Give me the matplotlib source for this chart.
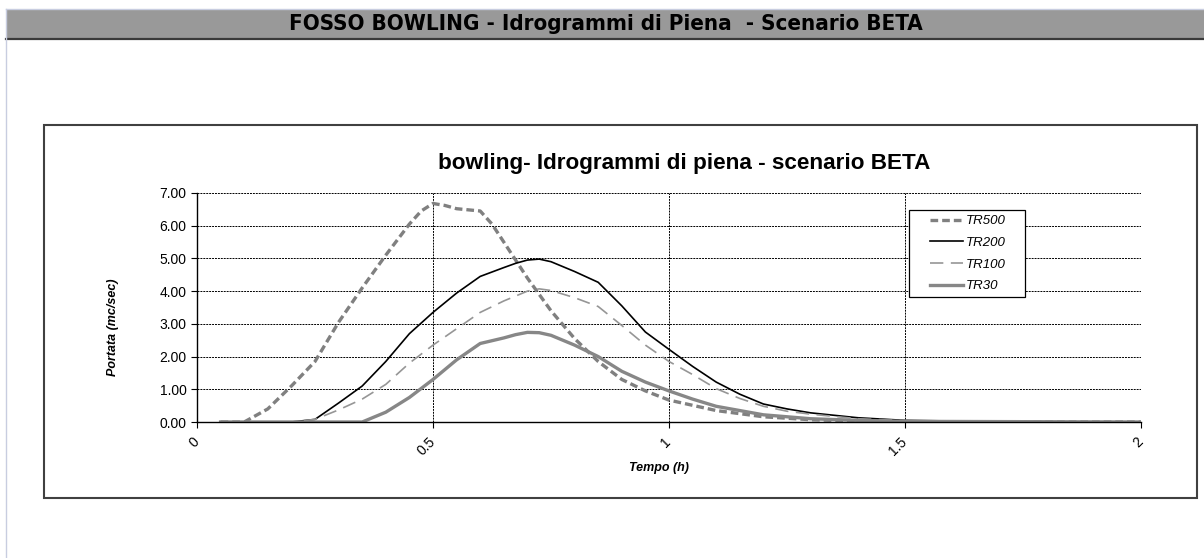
import matplotlib.pyplot as plt
from matplotlib.patches import Rectangle
from matplotlib.lines import Line2D

# portate (mc/sec)
t500 = [0.05, 0.10, 0.15, 0.20, 0.25, 0.30, 0.35, 0.40, 0.45, 0.475, 0.50, 0.525, 0.55, 0.60,
        0.625, 0.65, 0.70, 0.75, 0.80, 0.85, 0.90, 0.95, 1.00, 1.10, 1.20, 1.30, 1.40, 1.50, 2.00]
q500 = [0.0, 0.0, 0.4, 1.1, 1.85, 3.05, 4.1, 5.1, 6.05, 6.45, 6.68, 6.62, 6.52, 6.45,
        6.05, 5.5, 4.4, 3.4, 2.55, 1.85, 1.3, 0.95, 0.67, 0.35, 0.16, 0.07, 0.03, 0.01, 0.0]

t200 = [0.05, 0.20, 0.25, 0.30, 0.35, 0.40, 0.45, 0.50, 0.55, 0.60, 0.65, 0.675, 0.70, 0.725,
        0.75, 0.80, 0.85, 0.90, 0.95, 1.00, 1.05, 1.10, 1.15, 1.20, 1.25, 1.30, 1.40, 1.50,
        1.70, 2.00]
q200 = [0.0, 0.0, 0.08, 0.58, 1.1, 1.85, 2.7, 3.35, 3.94, 4.45, 4.72, 4.85, 4.95, 4.98,
        4.9, 4.6, 4.27, 3.55, 2.75, 2.22, 1.7, 1.22, 0.85, 0.55, 0.4, 0.28, 0.13, 0.05,
        0.01, 0.0]

t100 = [0.05, 0.20, 0.25, 0.30, 0.35, 0.40, 0.45, 0.50, 0.55, 0.60, 0.65, 0.70, 0.725,
        0.75, 0.80, 0.85, 0.90, 0.95, 1.00, 1.05, 1.10, 1.15, 1.20, 1.25, 1.30, 1.40, 1.50,
        1.70, 2.00]
q100 = [0.0, 0.0, 0.08, 0.37, 0.7, 1.15, 1.8, 2.35, 2.85, 3.35, 3.7, 4.0, 4.07,
        4.02, 3.8, 3.53, 2.95, 2.35, 1.85, 1.45, 1.02, 0.72, 0.48, 0.33, 0.24, 0.1, 0.04,
        0.01, 0.0]

t30 = [0.05, 0.35, 0.40, 0.45, 0.50, 0.55, 0.60, 0.65, 0.675, 0.70, 0.725, 0.75, 0.80,
       0.85, 0.90, 0.95, 1.00, 1.05, 1.10, 1.20, 1.30, 1.40, 1.50, 2.00]
q30 = [0.0, 0.0, 0.3, 0.75, 1.3, 1.9, 2.4, 2.57, 2.67, 2.74, 2.73, 2.65, 2.35,
       2.0, 1.55, 1.22, 0.95, 0.7, 0.48, 0.22, 0.1, 0.05, 0.02, 0.0]

xticks = [0, 0.5, 1, 1.5, 2]
yticks = [0, 1, 2, 3, 4, 5, 6, 7]

plt.rcParams['font.family'] = ['Liberation Sans', 'DejaVu Sans']

fig = plt.figure(figsize=(12.04, 5.58), dpi=100)
fig.patch.set_facecolor('white')

# banner in alto
fig.add_artist(Rectangle((6 / 1204, 1 - 38 / 558), 1 - 6 / 1204, 29 / 558,
                         transform=fig.transFigure, facecolor='#999999',
                         edgecolor='none', zorder=-2))
fig.add_artist(Line2D([6 / 1204, 1], [1 - 38.5 / 558] * 2, color='#3a3a3a', lw=1.6))
fig.add_artist(Line2D([6 / 1204, 1], [1 - 8.5 / 558] * 2, color='#c8cde0', lw=1.0))
fig.add_artist(Line2D([6 / 1204] * 2, [0, 1 - 8.5 / 558], color='#c8cde0', lw=1.0))
fig.text(606 / 1204, 1 - 24 / 558, 'FOSSO BOWLING - Idrogrammi di Piena  - Scenario BETA',
         ha='center', va='center', fontsize=16, fontweight='bold',
         family='DejaVu Sans', fontstretch='condensed')

# cornice del grafico
fig.add_artist(Rectangle((44 / 1204, 1 - 498 / 558), 1153 / 1204, 373 / 558,
                         transform=fig.transFigure, facecolor='white',
                         edgecolor='#404040', lw=1.5, zorder=-2))

fig.text(684 / 1204, 1 - 163 / 558, 'bowling- Idrogrammi di piena - scenario BETA',
         ha='center', va='center', fontsize=16.2, fontweight='bold')

ax = fig.add_axes([197 / 1204, 1 - 422 / 558, 944 / 1204, 229 / 558])
ax.set_facecolor('none')

ax.plot(t500, q500, color='#808080', lw=2.4, ls=(0, (2.3, 1.2)), label='TR500')
ax.plot(t200, q200, color='black', lw=1.2, label='TR200')
ax.plot(t100, q100, color='#969696', lw=1.2, ls=(0, (8, 4.5)), label='TR100')
ax.plot(t30, q30, color='#878787', lw=2.4, label='TR30')

ax.set_xlim(0, 2)
ax.set_ylim(0, 7)
ax.set_xticks(xticks)
ax.set_xticklabels(['0', '0.5', '1', '1.5', '2'], rotation=45, ha='right', va='center',
                   rotation_mode='anchor')
ax.set_yticks(yticks)
ax.set_yticklabels(['%.2f' % v for v in yticks])
ax.tick_params(labelsize=10, length=4, width=0.8, direction='out')
ax.tick_params(axis='x', pad=9)

ax.grid(True, color='black', ls=(0, (2, 1)), lw=0.7)
for s in ['top', 'right']:
    ax.spines[s].set_visible(False)
ax.spines['left'].set_linewidth(1.0)
ax.spines['bottom'].set_linewidth(1.0)

ax.set_xlabel('Tempo (h)', fontsize=9, fontweight='bold', fontstyle='italic')
ax.set_ylabel('Portata (mc/sec)', fontsize=9, fontweight='bold', fontstyle='italic')
ax.xaxis.set_label_coords(0.5 - 10 / 944, -(462 - 422) / 229)
ax.yaxis.set_label_coords(-(197 - 119) / 944, 0.5 - 20 / 229)

# legenda con riquadro disegnato a parte
ax.add_patch(Rectangle(((909 - 197) / 944, (422 - 297) / 229), 116 / 944, 87 / 229,
                       transform=ax.transAxes, facecolor='white', edgecolor='black',
                       lw=0.9, zorder=4))
leg = ax.legend(loc='upper left', bbox_to_anchor=((930 - 197) / 944, (422 - 215) / 229),
                borderaxespad=0, frameon=False, prop={'size': 9.5, 'style': 'italic'},
                handlelength=2.5, labelspacing=0.72, borderpad=0, handletextpad=0.25)
leg.set_zorder(5)

fig.savefig('out.png', dpi=100)
